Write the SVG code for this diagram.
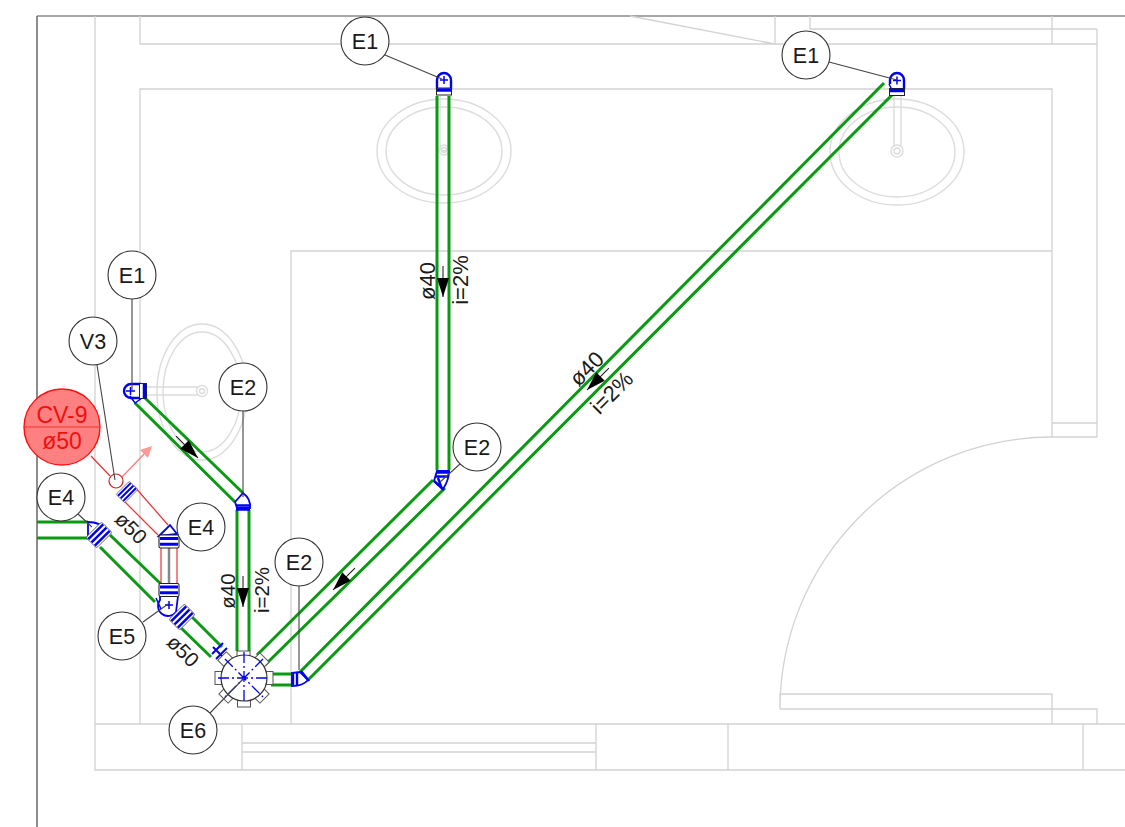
<svg xmlns="http://www.w3.org/2000/svg" width="1125" height="827" viewBox="0 0 1125 827">
<style>
text{font-family:"Liberation Sans",Arial,sans-serif;fill:#1a1a1a}
.a{fill:none;stroke:#d2d2d2;stroke-width:1.300}
.b{fill:none;stroke:#dcdcdc;stroke-width:1.400}
.g{fill:none;stroke:#0a9a12;stroke-width:3}
.r{fill:none;stroke:#f03030;stroke-width:1.200}
.f{fill:none;stroke:#0000f0;stroke-width:2.400}
.ft{fill:none;stroke:#0000f0;stroke-width:1.500}
.k{fill:none;stroke:#444;stroke-width:1.100}
.c{fill:#fff;stroke:#333;stroke-width:1.100}
.e{fill:#fff;stroke:#0000f0;stroke-width:1.800}
.h{fill:#fff;stroke:#555;stroke-width:1}
.l{font-size:21.500px;text-anchor:middle}
.t{font-size:22px;text-anchor:middle}
.s{font-size:20.500px;text-anchor:middle}
</style>
<defs>
<g id="arrow"><path d="M0 -31V0" stroke="#111" stroke-width="1" fill="none"/><path d="M-6 -19H6L0 0Z" fill="#000"/></g>
<g id="coup3"><rect x="-11" y="-7.500" width="22" height="15" rx="2" fill="#fff" stroke="#444" stroke-width=".8"/><path d="M-10.500 -4.600H10.500M-10.500 0H10.500M-10.500 4.600H10.500" stroke="#0000f0" stroke-width="2.500" fill="none"/></g>
<g id="coup2"><rect x="-10" y="-6.500" width="20" height="13" rx="1.500" fill="#fff" stroke="#222" stroke-width="1.100"/><path d="M-9 -3H9M-9 2.800H9" stroke="#0000f0" stroke-width="3" fill="none"/></g>
<g id="coupt"><rect x="-7.500" y="-3.500" width="15" height="7" fill="#fff" stroke="#222" stroke-width="1"/><path d="M-7 -1.500H7" stroke="#0000f0" stroke-width="3.500" fill="none"/></g>
<rect id="tab" x="-6.500" y="-29" width="13" height="8" fill="#fff" stroke="#555"/>
</defs>
<g id="architecture">
<path d="M37 16H1125" fill="none" stroke="#8a8a8a" stroke-width="1.300"/>
<path d="M37 16V827" fill="none" stroke="#666" stroke-width="1.500"/>
<path class="a" d="M95 16V770H1125M95 724H1125M140 16V44H1097M630 16L775 44V16M810 16V29H1097M1052 16V44M1097 29V437M140 724V89H1052V437H1097M1052 423H1097M291 724V251H1052"/>
<path class="a" d="M1052 437A272 272 0 0 0 780 709V694H1052V724M780 709H1097V724M242 724V770M596 724V770M728 724V770M1083 724V770M242 743H596M242 752H596"/>
<ellipse class="b" cx="444" cy="151" rx="67" ry="52"/><ellipse class="b" cx="444" cy="151" rx="58" ry="44"/>
<ellipse class="b" cx="897" cy="152" rx="67" ry="53"/><ellipse class="b" cx="897" cy="152" rx="58" ry="45"/>
<ellipse class="b" cx="202" cy="392" rx="45" ry="68"/><ellipse class="b" cx="202" cy="392" rx="39" ry="60"/>
<path class="b" d="M440 96V147A4 4 0 0 0 448 147V96M894 96V146M901 96V146M145 387H198M145 395H198"/>
<circle class="b" cx="444" cy="150" r="5"/><circle class="b" cx="444" cy="150" r="2.500"/>
<circle class="b" cx="897" cy="151" r="6"/><circle class="b" cx="897" cy="151" r="3"/>
<circle class="b" cx="202" cy="391" r="5.500"/><circle class="b" cx="202" cy="391" r="2.500"/>
</g>
<g id="connectors">
<path class="g" d="M437 96V470M449 96V470M237 510V651M249 510V651M135 403L235 502M145 398L243 493M37 522H88M37 538H88M110 535L162 585M100 547L155 602M188 613L222 647M178 625L211 657"/>
<path class="g" d="M257 655L433 480M265 665L445 488M300 672L884 83M308 680L892 95M271 674H293M271 685H293"/>
<path class="r" d="M134 486L168 525M122 499L158 535M161 545V585M177 545V585M91 456L110 476"/>
<path d="M169 535V590" stroke="#888" stroke-width="2.500" fill="none"/>
<path d="M122 477L147 451" stroke="#f77" stroke-width="1.200" fill="none"/><path d="M152 446L148 458L140 450Z" fill="#f99"/>
</g>
<use href="#arrow" transform="translate(198 458) rotate(-45)"/>
<use href="#arrow" transform="translate(243 607)"/>
<use href="#arrow" transform="translate(443 297)"/>
<use href="#arrow" transform="translate(587 390) rotate(45)"/>
<use href="#arrow" transform="translate(333 590) rotate(45)"/>
<g id="fittings">
<g id="fit-e1-mid"><path class="f" d="M437 89V80A7 7 0 0 1 451 80V89"/><path class="ft" d="M440 80H448M444 76V84"/><use href="#coupt" transform="translate(444 91.500)"/></g>
<g id="fit-e1-right"><path class="f" d="M890 84V80A7 7 0 0 1 904 80V89"/><path class="ft" d="M893 80.500H901M897 76.500V84.500M889 84L893 92"/><use href="#coupt" transform="translate(897 92)"/></g>
<g id="fit-e1-left"><path class="f" d="M141 384H131A7 7 0 0 0 131 398H141"/><path class="ft" d="M126 391H135M130.500 387V395M130 396L135 403L142 398"/><use href="#coupt" transform="translate(143 391) rotate(90)"/></g>
<g id="fit-e2-a"><path class="e" d="M235 502L243 493Q251 499 250 508H237Z"/><path class="f" d="M236 505.500H250M236 509.500H250"/></g>
<g id="fit-e2-b"><path class="e" d="M434 481L437 471H449Q449 480 443 489Z"/><path class="f" d="M437 472.500H450M436 476.500H449M434 481L444 490M438 478L442 489"/></g>
<g id="fit-e2-c"><path class="e" d="M292 673L300 672L308 680Q303 686 292 686Z"/><path class="f" d="M293 673V686M297 673V686M301 671L309 681"/></g>
<g id="fit-e4-left"><path class="e" d="M88 522Q100 522 107 530L97 545L88 538Z"/><use href="#coup3" transform="translate(99 535) rotate(-45)"/></g>
<g id="fit-v3"><use href="#coup3" transform="translate(127 492) rotate(-45) scale(.85 .8)"/><circle cx="116" cy="481" r="7" fill="#fff" stroke="#d02020" stroke-width="1.200"/></g>
<g id="fit-e4-right"><path class="e" d="M159 536L170 525L177 534Z"/><use href="#coup2" transform="translate(169 541.500)"/></g>
<g id="fit-e5"><path class="e" d="M160 600A9.500 9.500 0 0 0 176 612L178 596H160Z"/><path class="ft" d="M165 605H173M169 601V609M156 598L161 609"/><use href="#coup2" transform="translate(169 590)"/><use href="#coup3" transform="translate(182 617) rotate(-45)"/></g>
<g id="fit-e6">
<rect x="237" y="651" width="13" height="8" class="h"/><use href="#tab" transform="translate(244 678) rotate(45)"/><use href="#tab" transform="translate(244 678) rotate(90)"/><use href="#tab" transform="translate(244 678) rotate(135)"/><use href="#tab" transform="translate(244 678) rotate(180)"/><use href="#tab" transform="translate(244 678) rotate(225)"/><use href="#tab" transform="translate(244 678) rotate(270)"/>
<rect x="-6" y="-31" width="12" height="12" class="h" transform="translate(244 678) rotate(315)"/>
<circle cx="244" cy="678" r="23" fill="#fff" stroke="#333" stroke-width="1.200"/>
<path d="M244 652V704M218 678H270M225 659L263 697M263 659L225 697" stroke="#0000f0" stroke-width="1.300" stroke-dasharray="11 3 2 3" fill="none"/>
<path d="M212 654L223 643M216 659L227 648M213 647L222 656" stroke="#0000f0" stroke-width="2" fill="none"/></g>
</g>
<g id="leaders">
<path class="k" d="M385 55L442 79M829 62L897 80M132 299V391M97 365L115 480M243 411V497M460 464L440 482M78 514L92 527M299 586V670M143 622L168 604M210 713L244 678"/>
</g>
<g id="cv9"><circle cx="62" cy="427" r="38" fill="#ff8080" stroke="#ff1010" stroke-width="1.400"/><path d="M24 427H100" stroke="#f03030" stroke-width="1"/><text x="62" y="423" font-size="23" text-anchor="middle" style="fill:#f01010">CV-9</text><text x="62" y="449" font-size="23" text-anchor="middle" style="fill:#f01010">ø50</text></g>
<g id="e1-a"><circle class="c" cx="365" cy="41" r="24"/><text class="l" x="365" y="49">E1</text></g>
<g id="e1-b"><circle class="c" cx="806" cy="55" r="24"/><text class="l" x="806" y="63">E1</text></g>
<g id="e1-c"><circle class="c" cx="132" cy="275" r="24"/><text class="l" x="132" y="283">E1</text></g>
<g id="v3"><circle class="c" cx="93" cy="341" r="24"/><text class="l" x="93" y="349">V3</text></g>
<g id="e2-a"><circle class="c" cx="243" cy="387" r="24"/><text class="l" x="243" y="395">E2</text></g>
<g id="e2-b"><circle class="c" cx="477" cy="447" r="24"/><text class="l" x="477" y="455">E2</text></g>
<g id="e2-c"><circle class="c" cx="299" cy="562" r="24"/><text class="l" x="299" y="570">E2</text></g>
<g id="e4-a"><circle class="c" cx="61" cy="497" r="24"/><text class="l" x="61" y="505">E4</text></g>
<g id="e4-b"><circle class="c" cx="201" cy="527" r="24"/><text class="l" x="201" y="535">E4</text></g>
<g id="e5"><circle class="c" cx="122" cy="636" r="24"/><text class="l" x="122" y="644">E5</text></g>
<g id="e6"><circle class="c" cx="193" cy="730" r="24"/><text class="l" x="193" y="738">E6</text></g>
<g id="labels">
<text class="t" transform="translate(435 281) rotate(-90)">ø40</text>
<text class="t" transform="translate(468 280) rotate(-90)">i=2%</text>
<text class="s" transform="translate(235 591) rotate(-90)">ø40</text>
<text class="s" transform="translate(269 590) rotate(-90)">i=2%</text>
<text class="t" transform="translate(592 374) rotate(-45)">ø40</text>
<text class="t" transform="translate(617 398) rotate(-45)">i=2%</text>
<text class="s" transform="translate(126 533) rotate(45)">ø50</text>
<text class="s" transform="translate(178 656) rotate(45)">ø50</text>
</g>
</svg>
